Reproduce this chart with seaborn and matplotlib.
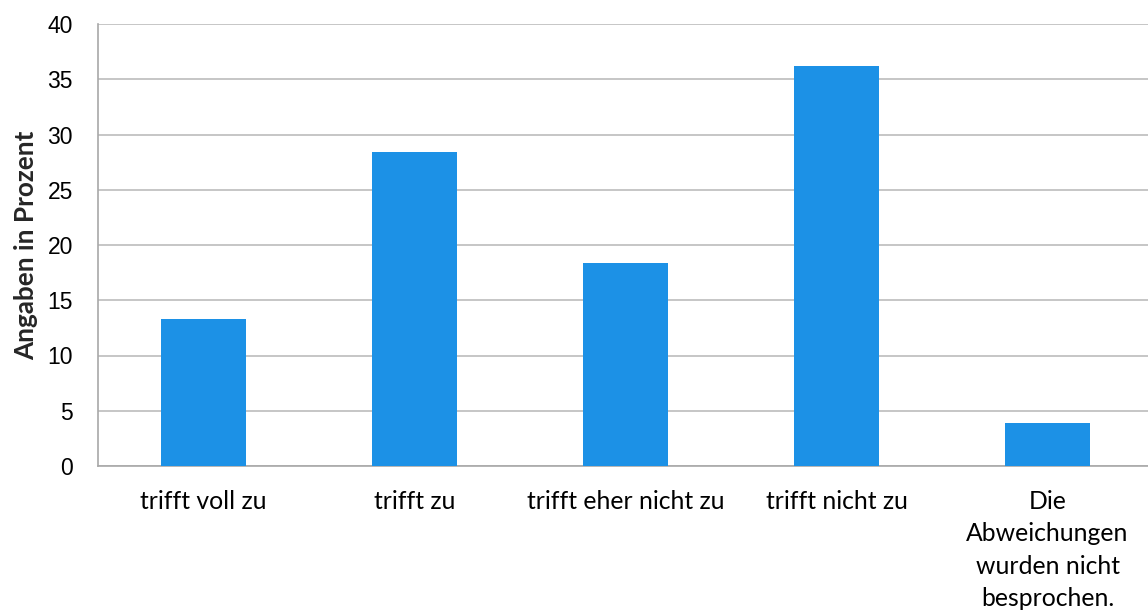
import numpy as np
import pandas as pd
import matplotlib
matplotlib.use("Agg")
import matplotlib.pyplot as plt
import seaborn as sns

# Daten
kategorien = ["trifft voll zu", "trifft zu", "trifft eher nicht zu", "trifft nicht zu",
              "Die\nAbweichungen\nwurden nicht\nbesprochen."]
prozent = [13.3, 28.4, 18.4, 36.2, 3.9]

df = pd.DataFrame({"kategorie": kategorien, "prozent": prozent})

sns.set_style("white")
plt.rcParams['font.family'] = ['Lato', 'DejaVu Sans']

fig = plt.figure(figsize=(11.48, 6.15), dpi=100)
ax = fig.add_axes([98 / 1148, 149 / 615, 1055 / 1148, 442 / 615])

sns.barplot(data=df, x="kategorie", y="prozent", color="#1c91e6", saturation=1,
            width=0.40, linewidth=0, ax=ax, zorder=3)

ax.set_ylim(0, 40)
ax.set_xlim(-0.5, 4.5)
ax.set_yticks(np.arange(0, 41, 5))
ax.yaxis.grid(True, color="#bcbcbc", linewidth=1.2, zorder=0)
ax.set_axisbelow(True)

for s in ["top", "right"]:
    ax.spines[s].set_visible(False)
for s in ["left", "bottom"]:
    ax.spines[s].set_color("#a8a8a8")
    ax.spines[s].set_linewidth(1.2)

ax.tick_params(axis="both", length=0, colors="black")
ax.tick_params(axis="y", pad=18)
ax.tick_params(axis="x", pad=17)
for lab in ax.get_yticklabels():
    lab.set_family(["Liberation Sans", "DejaVu Sans"])
    lab.set_fontsize(16.5)
for lab in ax.get_xticklabels():
    lab.set_fontsize(17.8)
    lab.set_linespacing(1.5)
ax.set_xlabel("")
ax.set_ylabel("Angaben in Prozent", fontsize=18.8, fontweight="bold", labelpad=7)

plt.savefig("out.png", dpi=100)
